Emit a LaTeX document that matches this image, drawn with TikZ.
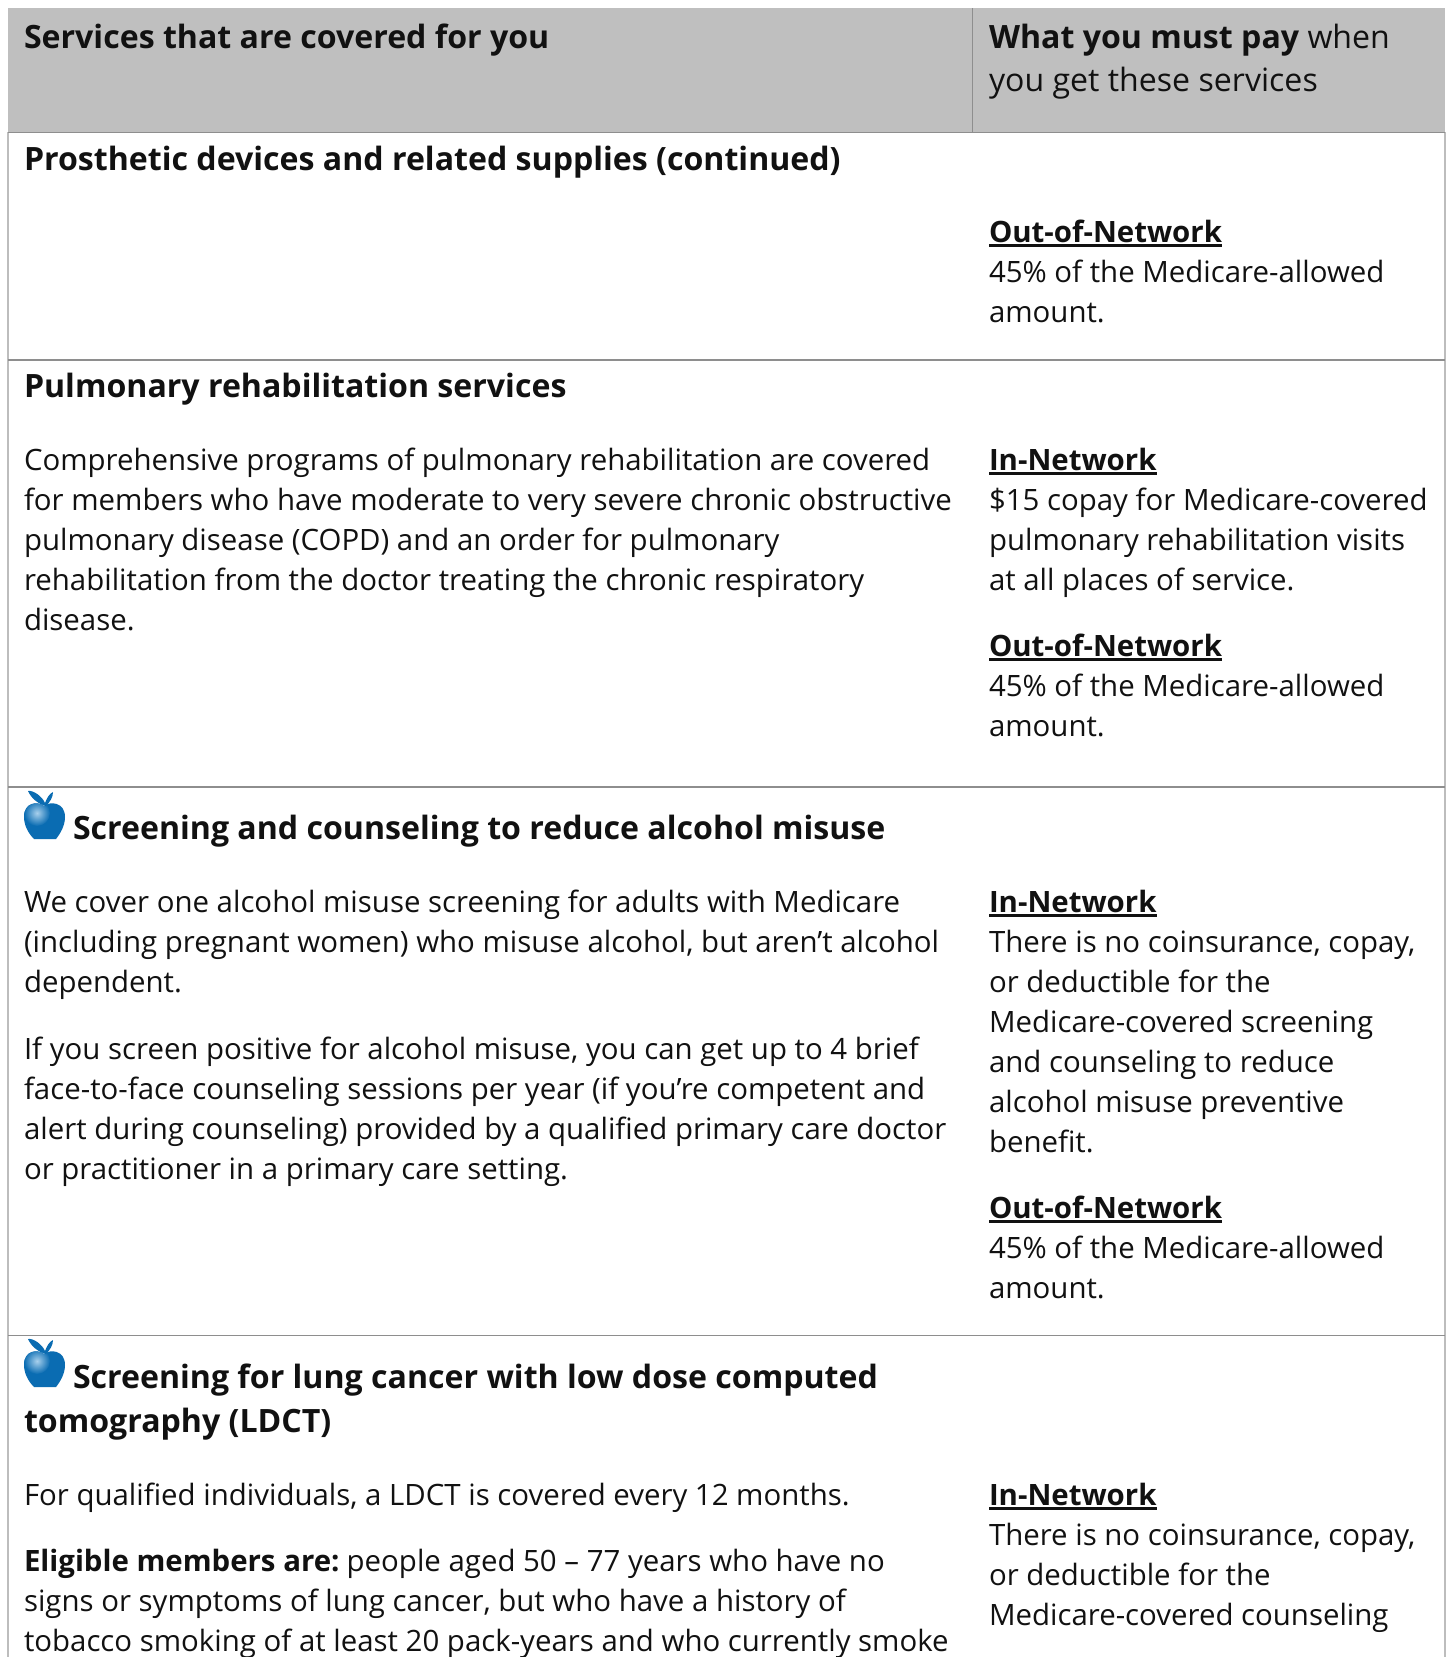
\documentclass[tikz,border=0pt]{standalone}
\usepackage{fontspec}
\setmainfont{Open Sans}
\newlength{\ulwd}
\newcommand{\ulnet}[1]{\settowidth{\ulwd}{\textbf{#1}}\rlap{\rule[-4.5pt]{\ulwd}{2.2pt}}\textbf{#1}}
\definecolor{hdrfill}{HTML}{BFBFBF}
\definecolor{rulegray}{HTML}{8E8E8E}
\definecolor{edgegray}{HTML}{BDBDBD}
\definecolor{appleblue}{HTML}{0A6CB2}
\definecolor{applelight}{HTML}{A8D0EC}
\definecolor{textblack}{HTML}{111111}
\tikzset{
  txt/.style={anchor=base west,inner sep=0pt,outer sep=0pt,text=textblack,font=\fontsize{29.4}{40}\selectfont},
  headtxt/.style={txt,font=\fontsize{32.1}{44}\selectfont\bfseries},
  rowline/.style={draw=rulegray,line width=1.8pt},
  edgeline/.style={draw=edgegray,line width=1.6pt}
}
\newcommand{\applepath}{(44,806) .. controls (50,801) and (65,802) .. (65,817)
      .. controls (65,826) and (60,834) .. (56,839)
      -- (34,839)
      .. controls (29,834) and (24,826) .. (24,817)
      .. controls (24,802) and (38,801) .. (44,806) -- cycle}
\newcommand{\apple}[1]{%
  \begin{scope}[yshift=-#1pt]
    \fill[appleblue] \applepath;
    \begin{scope}
      \clip \applepath;
      \shade[inner color=applelight,outer color=appleblue,shading=radial]
        (37,813) circle[radius=13];
    \end{scope}
    \fill[appleblue] (28,791) .. controls (33,790) and (42,796) .. (45,803)
      .. controls (47,798) and (49,794) .. (53,792)
      .. controls (53,797) and (50,802) .. (46,806)
      .. controls (38,804) and (31,798) .. (28,791) -- cycle;
  \end{scope}}
\begin{document}
\begin{tikzpicture}[x=1pt,y=-1pt]
\useasboundingbox (0,0) rectangle (1448,1657);
\fill[white] (0,0) rectangle (1448,1657);
\fill[hdrfill] (8,8) rectangle (1445,132);
\draw[edgeline] (8,132) -- (8,1657);
\draw[edgeline] (1445,132) -- (1445,1657);
\draw[rowline] (972.5,8) -- (972.5,132);
\draw[rowline] (8,132.5) -- (1445,132.5);
\draw[rowline] (8,360) -- (1445,360);
\draw[rowline] (8,787) -- (1445,787);
\draw[rowline] (8,1335.5) -- (1445,1335.5);
\apple{0}
\apple{548}
\node[headtxt] (h1) at (24,48) {Services that are covered for you};
\node[txt,font=\fontsize{32.1}{44}\selectfont] (h2a) at (989,48) {\textbf{What you must pay} when};
\node[txt,font=\fontsize{32.1}{44}\selectfont] (h2b) at (989,91.5) {you get these services};
\node[headtxt] (s1) at (24,170) {Prosthetic devices and related supplies (continued)};
\node[txt] (r1a) at (989,242) {\ulnet{Out-of-Network}};
\node[txt] (r1b) at (989,282) {45\% of the Medicare-allowed};
\node[txt] (r1c) at (989,322) {amount.};
\node[headtxt] (s2) at (24,397) {Pulmonary rehabilitation services};
\node[txt] (l2a) at (24,470) {Comprehensive programs of pulmonary rehabilitation are covered};
\node[txt] (l2b) at (24,510) {for members who have moderate to very severe chronic obstructive};
\node[txt] (l2c) at (24,550) {pulmonary disease (COPD) and an order for pulmonary};
\node[txt] (l2d) at (24,590) {rehabilitation from the doctor treating the chronic respiratory};
\node[txt] (l2e) at (24,630) {disease.};
\node[txt] (r2a) at (989,470) {\ulnet{In-Network}};
\node[txt] (r2b) at (989,510) {\$15 copay for Medicare-covered};
\node[txt] (r2c) at (989,550) {pulmonary rehabilitation visits};
\node[txt] (r2d) at (989,590) {at all places of service.};
\node[txt] (r2e) at (989,656) {\ulnet{Out-of-Network}};
\node[txt] (r2f) at (989,696) {45\% of the Medicare-allowed};
\node[txt] (r2g) at (989,736) {amount.};
\node[headtxt] (s3) at (73,839) {Screening and counseling to reduce alcohol misuse};
\node[txt] (l3a) at (24,912) {We cover one alcohol misuse screening for adults with Medicare};
\node[txt] (l3b) at (24,952) {(including pregnant women) who misuse alcohol, but aren’t alcohol};
\node[txt] (l3c) at (24,992) {dependent.};
\node[txt] (l3d) at (24,1059) {If you screen positive for alcohol misuse, you can get up to 4 brief};
\node[txt] (l3e) at (24,1099) {face-to-face counseling sessions per year (if you’re competent and};
\node[txt] (l3f) at (24,1139) {alert during counseling) provided by a qualified primary care doctor};
\node[txt] (l3g) at (24,1179) {or practitioner in a primary care setting.};
\node[txt] (r3a) at (989,912) {\ulnet{In-Network}};
\node[txt] (r3b) at (989,952) {There is no coinsurance, copay,};
\node[txt] (r3c) at (989,992) {or deductible for the};
\node[txt] (r3d) at (989,1032) {Medicare-covered screening};
\node[txt] (r3e) at (989,1072) {and counseling to reduce};
\node[txt] (r3f) at (989,1112) {alcohol misuse preventive};
\node[txt] (r3g) at (989,1152) {benefit.};
\node[txt] (r3h) at (989,1218) {\ulnet{Out-of-Network}};
\node[txt] (r3i) at (989,1258) {45\% of the Medicare-allowed};
\node[txt] (r3j) at (989,1298) {amount.};
\node[headtxt] (s4a) at (73,1388.5) {Screening for lung cancer with low dose computed};
\node[headtxt] (s4b) at (24,1432.5) {tomography (LDCT)};
\node[txt] (l4a) at (24,1505) {For qualified individuals, a LDCT is covered every 12 months.};
\node[txt] (l4b) at (24,1571) {\textbf{Eligible members are:}\kern-3pt{} people aged 50 – 77 years who have no};
\node[txt] (l4c) at (24,1611) {signs or symptoms of lung cancer, but who have a history of};
\node[txt] (l4d) at (24,1651) {tobacco smoking of at least 20 pack-years and who currently smoke};
\node[txt] (r4a) at (989,1505) {\ulnet{In-Network}};
\node[txt] (r4b) at (989,1545) {There is no coinsurance, copay,};
\node[txt] (r4c) at (989,1585) {or deductible for the};
\node[txt] (r4d) at (989,1625) {Medicare-covered counseling};
\end{tikzpicture}
\end{document}
